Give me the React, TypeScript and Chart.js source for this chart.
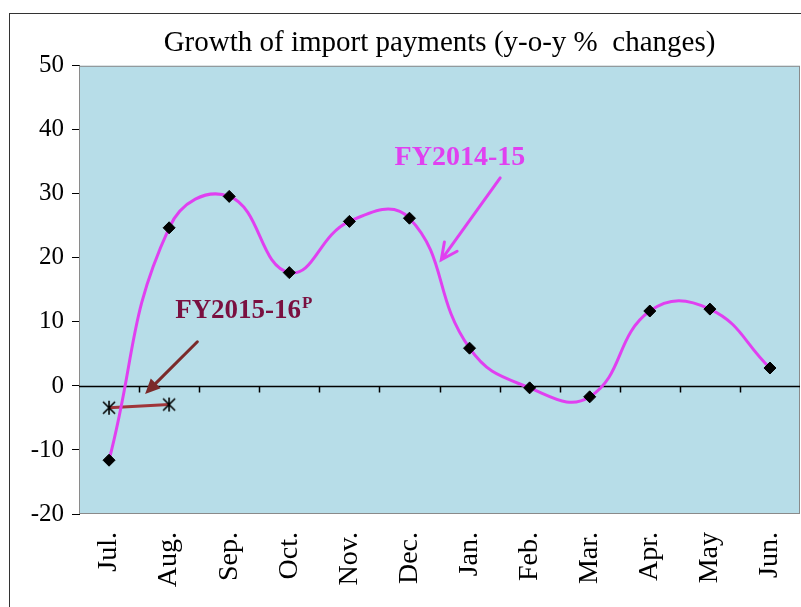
import React, { useEffect, useRef } from 'react';
import { Chart, registerables } from 'chart.js';
Chart.register(...registerables);

const months = ['Jul.', 'Aug.', 'Sep.', 'Oct.', 'Nov.', 'Dec.', 'Jan.', 'Feb.', 'Mar.', 'Apr.', 'May', 'Jun.'];
const fy2014_15 = [-11.6, 24.7, 29.6, 17.7, 25.7, 26.2, 5.9, -0.3, -1.7, 11.7, 12.0, 2.8];
const fy2015_16 = [-3.4, -2.9, null, null, null, null, null, null, null, null, null, null];
const yMin = -20;
const yMax = 50;
const yStep = 10;
const titleText = 'Growth of import payments (y-o-y %  changes)';
const label1415 = 'FY2014-15';
const label1516 = 'FY2015-16';
const label1516Sup = 'P';

const SERIF = '"Liberation Serif", "Times New Roman", serif';
const PINK = '#E040F0';

function makeAsterisk(): HTMLCanvasElement {
  const c = document.createElement('canvas');
  c.width = 16;
  c.height = 16;
  const g = c.getContext('2d')!;
  g.strokeStyle = '#000';
  g.lineWidth = 1.6;
  g.beginPath();
  g.moveTo(2, 2); g.lineTo(14, 14);
  g.moveTo(14, 2); g.lineTo(2, 14);
  g.moveTo(8, 1); g.lineTo(8, 15);
  g.stroke();
  return c;
}

const bgPlugin = {
  id: 'bgPlugin',
  beforeDatasetsDraw(chart: any) {
    const { ctx, chartArea: a, scales } = chart;
    const x = scales.x, y = scales.y;
    ctx.save();
    ctx.fillStyle = '#B7DDE8';
    ctx.fillRect(a.left, a.top, a.right - a.left, a.bottom - a.top);
    ctx.strokeStyle = '#8a8a8a';
    ctx.lineWidth = 1;
    ctx.strokeRect(a.left + 0.5, a.top + 0.5, a.right - a.left - 1, a.bottom - a.top - 1);
    // zero axis line with category-boundary ticks
    const y0 = Math.round(y.getPixelForValue(0)) + 0.5;
    ctx.strokeStyle = '#000';
    ctx.lineWidth = 1.5;
    ctx.beginPath();
    ctx.moveTo(a.left, y0);
    ctx.lineTo(a.right, y0);
    for (let i = 1; i < months.length; i++) {
      const bx = Math.round(x.getPixelForValue(i - 0.5)) + 0.5;
      ctx.moveTo(bx, y0);
      ctx.lineTo(bx, y0 + 6);
    }
    ctx.stroke();
    ctx.restore();
  },
};

function arrowOpen(ctx: CanvasRenderingContext2D, x1: number, y1: number, x2: number, y2: number, color: string) {
  const ang = Math.atan2(y2 - y1, x2 - x1);
  const L = 18;
  ctx.strokeStyle = color;
  ctx.lineWidth = 3;
  ctx.lineCap = 'round';
  ctx.beginPath();
  ctx.moveTo(x1, y1);
  ctx.lineTo(x2, y2);
  ctx.moveTo(x2 - L * Math.cos(ang - 0.45), y2 - L * Math.sin(ang - 0.45));
  ctx.lineTo(x2, y2);
  ctx.lineTo(x2 - L * Math.cos(ang + 0.45), y2 - L * Math.sin(ang + 0.45));
  ctx.stroke();
}

function arrowFilled(ctx: CanvasRenderingContext2D, x1: number, y1: number, x2: number, y2: number, color: string) {
  const ang = Math.atan2(y2 - y1, x2 - x1);
  const L = 15;
  const bx = x2 - L * Math.cos(ang), by = y2 - L * Math.sin(ang);
  ctx.strokeStyle = color;
  ctx.fillStyle = color;
  ctx.lineWidth = 3;
  ctx.beginPath();
  ctx.moveTo(x1, y1);
  ctx.lineTo(bx, by);
  ctx.stroke();
  ctx.beginPath();
  ctx.moveTo(x2, y2);
  ctx.lineTo(bx + 7 * Math.sin(ang), by - 7 * Math.cos(ang));
  ctx.lineTo(bx - 7 * Math.sin(ang), by + 7 * Math.cos(ang));
  ctx.closePath();
  ctx.fill();
}

const annotationPlugin = {
  id: 'annotationPlugin',
  afterDatasetsDraw(chart: any) {
    const { ctx, scales } = chart;
    const x = scales.x, y = scales.y;
    ctx.save();
    // FY2014-15 label and arrow
    ctx.font = `bold 28px ${SERIF}`;
    ctx.fillStyle = PINK;
    ctx.textAlign = 'center';
    ctx.textBaseline = 'middle';
    ctx.fillText(label1415, x.getPixelForValue(5.84), y.getPixelForValue(35.6));
    arrowOpen(ctx, x.getPixelForValue(6.51), y.getPixelForValue(32.5), x.getPixelForValue(5.53), y.getPixelForValue(19.7), PINK);

    // FY2015-16P label and arrow
    ctx.font = `bold 27px ${SERIF}`;
    ctx.fillStyle = '#7A1040';
    ctx.textAlign = 'left';
    ctx.textBaseline = 'alphabetic';
    const lx = x.getPixelForValue(1.1);
    const ly = y.getPixelForValue(10.6);
    ctx.fillText(label1516, lx, ly);
    const w = ctx.measureText(label1516).width;
    ctx.font = `bold 17px ${SERIF}`;
    ctx.fillText(label1516Sup, lx + w + 1, ly - 10);
    arrowFilled(ctx, x.getPixelForValue(1.47), y.getPixelForValue(6.9), x.getPixelForValue(0.6), y.getPixelForValue(-1.25), '#7B2A2A');
    ctx.restore();
  },
};

export default function App() {
  const ref = useRef<HTMLCanvasElement>(null);
  useEffect(() => {
    if (!ref.current) return;
    const chart = new Chart(ref.current, {
      type: 'line',
      data: {
        labels: months,
        datasets: [
          {
            label: label1415,
            data: fy2014_15,
            borderColor: PINK,
            borderWidth: 3,
            tension: 0.45,
            pointStyle: 'rectRot',
            pointRadius: 6,
            pointBackgroundColor: '#000',
            pointBorderColor: '#000',
            pointBorderWidth: 1,
          },
          {
            label: label1516 + label1516Sup,
            data: fy2015_16,
            borderColor: '#A0353A',
            borderWidth: 3,
            tension: 0,
            pointStyle: makeAsterisk() as any,
            pointRadius: 8,
          },
        ],
      },
      options: {
        animation: false,
        responsive: false,
        layout: { autoPadding: false, padding: { top: 22, right: 1, left: 0, bottom: 0 } },
        plugins: {
          legend: { display: false },
          tooltip: { enabled: false },
          title: {
            display: true,
            fullSize: false,
            text: titleText,
            color: '#000',
            font: { family: SERIF, size: 29, weight: 'normal' },
            padding: { top: 4, bottom: 5 },
          },
        },
        scales: {
          x: {
            offset: true,
            grid: { display: false, offset: true },
            border: { display: false },
            ticks: {
              minRotation: 90,
              maxRotation: 90,
              padding: 10,
              color: '#000',
              font: { family: SERIF, size: 28 },
            },
            afterFit(scale: any) {
              scale.height = 93;
              scale.paddingLeft = 0;
              scale.paddingRight = 0;
            },
          },
          y: {
            min: yMin,
            max: yMax,
            grid: { display: true, drawOnChartArea: false, drawTicks: true, tickLength: 7, color: '#000' },
            border: { display: true, color: '#000', width: 1 },
            ticks: {
              stepSize: yStep,
              padding: 8,
              color: '#000',
              font: { family: SERIF, size: 25 },
            },
            afterFit(scale: any) { scale.width = 79; },
          },
        },
      },
      plugins: [bgPlugin, annotationPlugin],
    } as any);
    return () => chart.destroy();
  }, []);

  return (
    <div style={{ position: 'fixed', left: 0, top: 0, width: 801, height: 607, overflow: 'hidden', background: '#fff' }}>
      <div style={{ position: 'absolute', left: 9, top: 13, width: 820, height: 620, border: '1.5px solid #333' }} />
      <canvas ref={ref} width={801} height={607} style={{ position: 'absolute', left: 0, top: 0, width: 801, height: 607 }} />
    </div>
  );
}
